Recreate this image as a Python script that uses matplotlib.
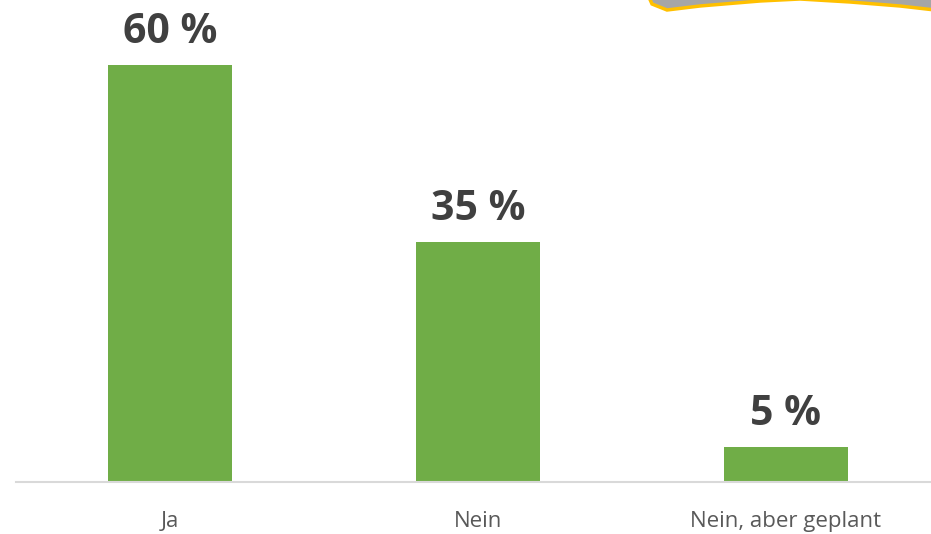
import matplotlib
matplotlib.use('Agg')
import matplotlib.pyplot as plt
from matplotlib.patches import Polygon

categories = ['Ja', 'Nein', 'Nein, aber geplant']
values = [60, 34.5, 5]
labels = ['60 %', '35 %', '5 %']

W, H = 931, 534
fig = plt.figure(figsize=(W / 100, H / 100), dpi=100)
ax = fig.add_axes([16 / W, 52 / H, 1 - 16 / W, 1 - 52 / H])

x = range(len(categories))
ax.bar(x, values, width=0.4, color='#70ad47', zorder=2)
for xi, v, lab in zip(x, values, labels):
    ax.text(xi, v + 3.2, lab, ha='center', va='baseline', fontsize=29.5,
            fontweight='bold', color='#404040', family='Open Sans')

ax.set_xlim(-0.5, 2.471)
ax.set_ylim(0, 69.4)
ax.set_xticks(list(x))
ax.set_xticklabels(categories, fontsize=16, color='#595959', family='Open Sans')
ax.tick_params(axis='x', length=0, pad=21)
ax.set_yticks([])
for s in ['top', 'right', 'left']:
    ax.spines[s].set_visible(False)
ax.spines['bottom'].set_color('#d9d9d9')
ax.spines['bottom'].set_linewidth(1.5)

# decorative banner edge at top right
pts = [(648, -5), (652, 4), (667, 10), (700, 6), (760, 1), (800, -1),
       (850, 2), (900, 6), (935, 10), (935, -5)]
pts = [(px / W, 1 - py / H) for px, py in pts]
fig.patches.append(Polygon(pts, closed=True, facecolor='#a6a6a6',
                           edgecolor='#ffc000', linewidth=2.5,
                           transform=fig.transFigure, figure=fig))

fig.savefig('out.png', dpi=100)
